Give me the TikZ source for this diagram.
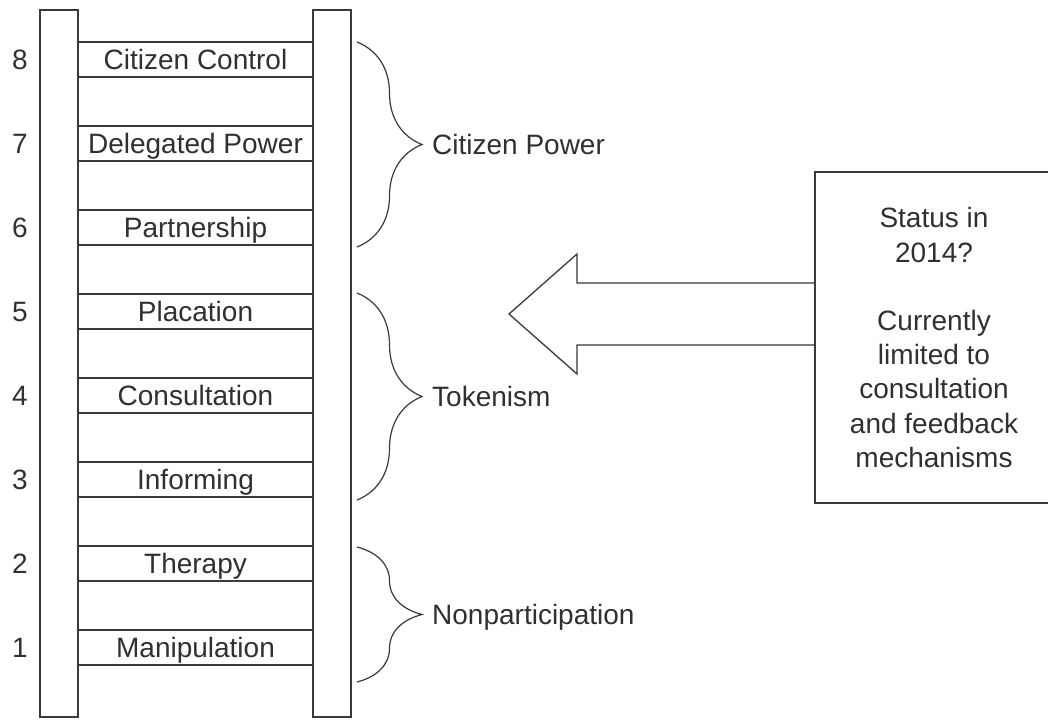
\documentclass[tikz,border=0pt]{standalone}
\usepackage{fontspec}
\setmainfont{Liberation Sans}
\usetikzlibrary{decorations.pathreplacing}
\definecolor{linecol}{RGB}{58,58,58}
\definecolor{textcol}{RGB}{48,48,48}
\begin{document}
\begin{tikzpicture}[x=1pt,y=-1pt,
  every node/.style={text=textcol, font=\fontsize{28}{34.2}\selectfont, inner sep=0pt},
  lbl/.style={text height=20pt, text depth=0pt},
  rail/.style={draw=linecol, line width=1.3pt, minimum width=38pt, minimum height=707pt},
  rung/.style={lbl, draw=linecol, line width=1.3pt, minimum width=235pt, minimum height=35pt},
  outline/.style={draw=linecol, line width=1.3pt, line join=miter},
  bracestyle/.style={draw=linecol, line width=1.2pt, decorate, decoration={brace, amplitude=65pt}},
  statusbox/.style={draw=linecol, line width=1.3pt, minimum width=238pt, minimum height=331pt, align=center}
]
\useasboundingbox (0,0) rectangle (1048,720);
\clip (0,0) rectangle (1048,720);
\fill[white] (0,0) rectangle (1048,720);

% rails
\node[rail] (lrail) at (59,363.5) {};
\node[rail] (rrail) at (332,363.5) {};

% rungs and numbers
\node[rung] (r8) at (195.5,59.5)  {Citizen Control};
\node[rung] (r7) at (195.5,143.5) {Delegated Power};
\node[rung] (r6) at (195.5,227.5) {Partnership};
\node[rung] (r5) at (195.5,311.5) {Placation};
\node[rung] (r4) at (195.5,395.5) {Consultation};
\node[rung] (r3) at (195.5,479.5) {Informing};
\node[rung] (r2) at (195.5,563.5) {Therapy};
\node[rung] (r1) at (195.5,647.5) {Manipulation};

\foreach \k in {1,...,8} {
  \node[lbl] (n\k) at (20,{59.5+84*(8-\k)}) {\k};
}

% braces
\coordinate (b1t) at (357,42);
\coordinate (b1b) at (357,247);
\coordinate (b2t) at (357,293);
\coordinate (b2b) at (357,500);
\coordinate (b3t) at (357,547);
\coordinate (b3b) at (357,682);
\draw[bracestyle] (b1t) -- (b1b);
\draw[bracestyle] (b2t) -- (b2b);
\draw[bracestyle] (b3t) -- (b3b);
\node[lbl, anchor=west] (cp) at (432,144.5) {Citizen Power};
\node[lbl, anchor=west] (tk) at (432,396.5) {Tokenism};
\node[lbl, anchor=west] (np) at (432,614.5) {Nonparticipation};

% status box
\node[statusbox] (box) at (934,337.5) {Status in\\2014?\\[34.2pt]Currently\\limited to\\consultation\\and feedback\\mechanisms};

% big hollow arrow
\coordinate (tip) at (509,314);
\draw[outline] (box.west |- 0,283) -- (577,283) -- (577,254) -- (tip) -- (577,374) -- (577,345) -- (box.west |- 0,345);
\end{tikzpicture}
\end{document}
